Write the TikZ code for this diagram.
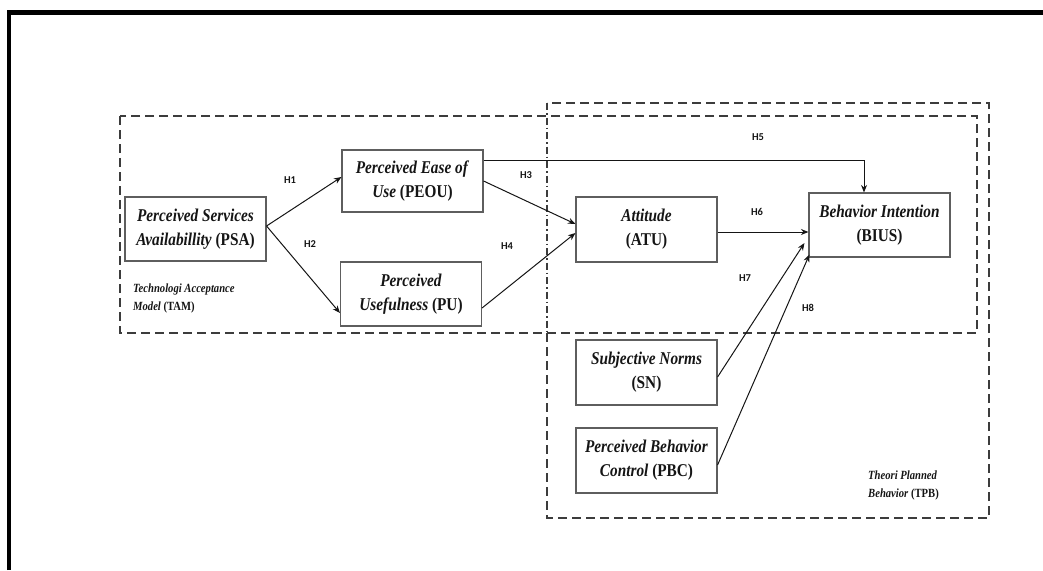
\documentclass[tikz,border=0pt]{standalone}
\usepackage{fontspec}
\setmainfont{Liberation Serif}
\newfontfamily\boxfont[FakeStretch=0.85]{Liberation Serif}
\newfontfamily\hfont{Carlito}
\usetikzlibrary{arrows.meta}

\definecolor{ink}{HTML}{151515}
\definecolor{boxgray}{HTML}{5E5E5E}
\definecolor{dashgray}{HTML}{3C3C3C}

\begin{document}
\begin{tikzpicture}[x=1pt,y=-1pt,
  construct/.style={draw=boxgray, line width=1.1pt, fill=white,
    minimum width=141pt, minimum height=64pt, inner sep=0pt,
    align=center, text=ink, font=\boxfont\bfseries\fontsize{18}{24}\selectfont},
  arr/.style={draw=ink, line width=1pt, -{Stealth[length=7.5pt,width=6pt]}},
  hyp/.style={font=\hfont\bfseries\fontsize{10.5}{12}\selectfont, text=ink, inner sep=0pt},
  group/.style={draw=dashgray, line width=1.4pt, dash pattern=on 9pt off 5pt},
  groupdot/.style={draw=dashgray, line width=1.2pt, dash pattern=on 7pt off 3pt on 1.5pt off 3pt},
  note/.style={align=left, anchor=north west, inner sep=0pt, text=ink,
    font=\boxfont\bfseries\fontsize{12.5}{17.5}\selectfont}
]
\useasboundingbox (0,0) rectangle (1043,570);

% outer frame (top and left edges)
\draw[line width=4.5pt, black] (9,570) -- (9,12.5) -- (1043,12.5);

% model groupings
\draw[group] (120,116) rectangle (977,333);
\draw[group] (547,333) -- (547,518) -- (989,518) -- (989,103) -- (547,103);
\draw[groupdot] (547,103) -- (547,333);

\node[note] (tam) at (133,284) {\textit{Technologi Acceptance}\\\textit{Model} (TAM)};
\node[note] (tpb) at (868,471) {\textit{Theori Planned}\\\textit{Behavior} (TPB)};

% constructs
\node[construct] (PSA)  at (195.5,229)   {\textit{Perceived Services}\\\textit{Availabillity} (PSA)};
\node[construct, minimum height=62pt] (PEOU) at (412.5,181) {\textit{Perceived Ease of}\\\textit{Use} (PEOU)};
\node[construct] (PU)   at (411,294)     {\textit{Perceived}\\\textit{Usefulness} (PU)};
\node[construct, minimum height=65pt] (ATU)  at (646.5,229.5) {\textit{Attitude}\\(ATU)};
\node[construct] (BIUS) at (879.5,225)   {\textit{Behavior Intention}\\(BIUS)};
\node[construct, minimum height=65pt] (SN)   at (646.5,372.5) {\textit{Subjective Norms}\\(SN)};
\node[construct, minimum height=65pt] (PBC)  at (646.5,460.5) {\textit{Perceived Behavior}\\\textit{Control} (PBC)};

% hypothesised paths
\draw[arr] ([yshift=3pt]PSA.east) -- ([yshift=4pt]PEOU.west);
\draw[arr] ([yshift=3pt]PSA.east) -- ([yshift=-19pt]PU.west);
\draw[arr] (PEOU.east) -- ([yshift=5.5pt]ATU.west);
\draw[arr] ([yshift=-14pt]PU.east) -- ([yshift=-3.5pt]ATU.west);
\draw[arr] ([yshift=21pt]PEOU.east) -| ([xshift=-15.5pt]BIUS.north);
\draw[arr] ([yshift=-2.5pt]ATU.east) coordinate (h6s) -- (h6s -| BIUS.west);
\draw[arr] ([yshift=-4.5pt]SN.east) -- ([xshift=-4pt,yshift=-18pt]BIUS.west);
\draw[arr] ([yshift=-4.5pt]PBC.east) -- ([xshift=1pt,yshift=3pt]BIUS.south west);

% hypothesis labels
\node[hyp] (h1) at (290,180) {H1};
\node[hyp] (h2) at (310,244) {H2};
\node[hyp] (h3) at (526,175) {H3};
\node[hyp] (h4) at (507,246) {H4};
\node[hyp] (h5) at (758,137) {H5};
\node[hyp] (h6) at (757,212) {H6};
\node[hyp] (h7) at (745,278) {H7};
\node[hyp] (h8) at (808,308) {H8};
\end{tikzpicture}
\end{document}
